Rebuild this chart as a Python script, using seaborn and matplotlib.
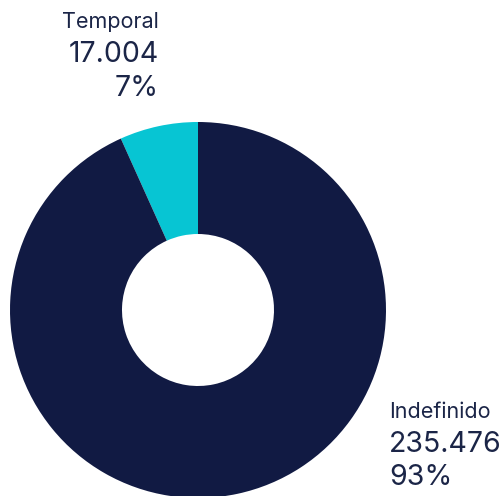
import matplotlib
matplotlib.use("Agg")
import matplotlib.pyplot as plt
import seaborn as sns

categories = ["Temporal", "Indefinido"]
counts = [17004, 235476]
count_labels = ["17.004", "235.476"]
pct_labels = ["7%", "93%"]

sns.set_theme(style="white")
plt.rcParams["font.family"] = ["Inter", "DejaVu Sans"]

colors = ["#07c5d3", "#111a43"]
text_color = "#1b2547"

fig = plt.figure(figsize=(5.01, 4.96), dpi=100)
ax = fig.add_axes([0, 0, 1, 1])
ax.set_xlim(0, 501)
ax.set_ylim(0, 496)
ax.set_aspect("equal")
ax.axis("off")

# donut, center / radius in pixel units
ax.pie(counts, colors=colors, startangle=90, counterclock=True,
       center=(198, 186), radius=188,
       wedgeprops=dict(width=112, linewidth=0))
ax.set_xlim(0, 501)
ax.set_ylim(0, 496)

# Temporal label (right-aligned, top left)
ax.text(159, 496 - 28, categories[0], ha="right", va="baseline",
        fontsize=15.5, color=text_color)
ax.text(159, 496 - 62, count_labels[0], ha="right", va="baseline",
        fontsize=20.5, color=text_color)
ax.text(159, 496 - 96, pct_labels[0], ha="right", va="baseline",
        fontsize=20.5, color=text_color)

# Indefinido label (left-aligned, bottom right)
ax.text(389, 496 - 418, categories[1], ha="left", va="baseline",
        fontsize=15.5, color=text_color)
ax.text(389, 496 - 452, count_labels[1], ha="left", va="baseline",
        fontsize=20.5, color=text_color)
ax.text(389, 496 - 485, pct_labels[1], ha="left", va="baseline",
        fontsize=20.5, color=text_color)

fig.savefig("out.png", dpi=100)
